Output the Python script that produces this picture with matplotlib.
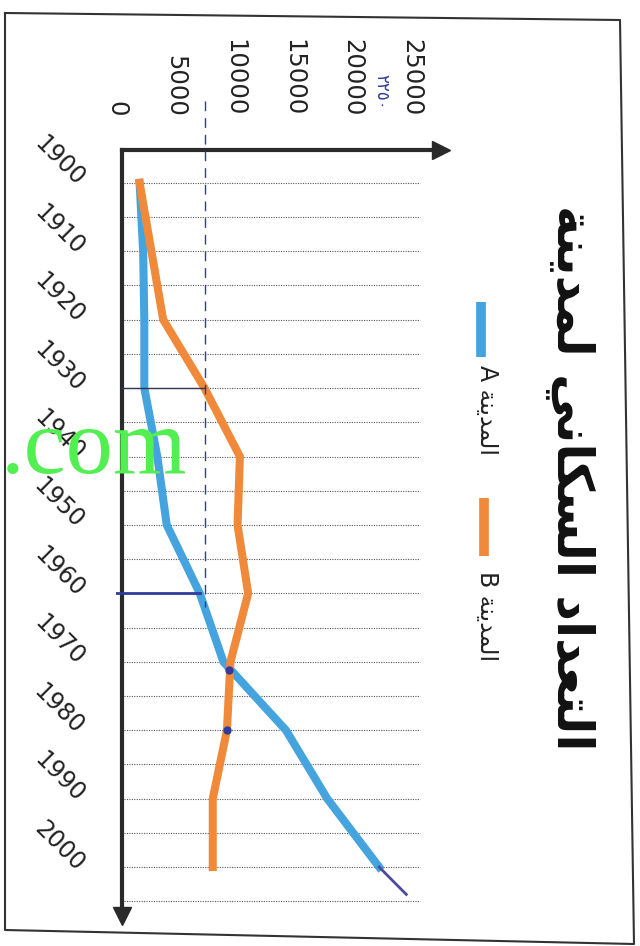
import matplotlib
matplotlib.use('Agg')
import matplotlib.pyplot as plt
from matplotlib.lines import Line2D

# population of the two cities
years = [1900, 1910, 1920, 1930, 1940, 1950, 1960, 1970, 1980, 1990, 2000]
city_a = [2000, 2300, 2400, 2400, 3500, 4300, 7100, 9100, 14400, 17900, 22300]
city_b = [2000, 3000, 4000, 7500, 10500, 10300, 11200, 9700, 9400, 8200, 8200]
grid_years = list(range(1900, 2010, 5))
pop_ticks = [0, 5000, 10000, 15000, 20000, 25000]

# pen marks the student added on the printout
mark_pop = 7500
mark_years = [1930, 1960]
mark_dots_year = [1971.2, 1980]
mark_dots_pop = [9600, 9400]
pen_ext_years = [2000, 2004]
pen_ext_pop = [22300, 24600]

BLUE = '#45a3de'
ORANGE = '#f08a3a'
INK = '#2f3c9a'
AXIS = '#2a2a2a'


def visual(codes):
    # matplotlib has no Arabic shaping: use presentation forms, reversed
    return ''.join(chr(c) for c in reversed(codes))


w_taadad = [0xFE8D, 0xFEDF, 0xFE98, 0xFECC, 0xFEAA, 0xFE8D, 0xFEA9]
w_sukkani = [0xFE8D, 0xFEDF, 0xFEB4, 0xFEDC, 0xFE8E, 0xFEE7, 0xFEF2]
w_lmadina = [0xFEDF, 0xFEE4, 0xFEAA, 0xFEF3, 0xFEE8, 0xFE94]
w_madina = [0xFE8D, 0xFEDF, 0xFEE4, 0xFEAA, 0xFEF3, 0xFEE8, 0xFE94]
SP = [0x20]
title = visual(w_taadad + SP + w_sukkani + SP + w_lmadina)
label_a = 'A ' + visual(w_madina)
label_b = 'B ' + visual(w_madina)

plt.rcParams['font.family'] = ['DejaVu Sans']

W, H = 640, 946
fig = plt.figure(figsize=(W / 100, H / 100), dpi=100, facecolor='white')


def fx(px):
    return px / W


def fy(py):
    return 1 - py / H


ax = fig.add_axes([fx(116), fy(930), 331 / W, (930 - 150) / H])
ax.set_xlim(0, 28050)
ax.set_ylim(2009.2, 1895.2)

# dotted grid every 5 years
ax.hlines(grid_years, 700, 25800, colors='#555555', linestyles=(0, (1, 1.2)),
          linewidth=0.8, zorder=1)

ax.plot(city_a, years, color=BLUE, linewidth=5.8, solid_joinstyle='miter', zorder=3)
ax.plot(city_b, years, color=ORANGE, linewidth=5.8, solid_joinstyle='miter', zorder=3)

# hand-drawn axes with arrows
for s in ['right', 'bottom']:
    ax.spines[s].set_visible(False)
ax.spines['left'].set_position(('data', 500))
for s in ['left', 'top']:
    ax.spines[s].set_linewidth(3)
    ax.spines[s].set_color(AXIS)
ax.spines['top'].set_bounds(500, 27300)
ax.spines['left'].set_bounds(1895.2, 2006.5)
ax.plot(27500, 1895.2, '>', color=AXIS, ms=13, clip_on=False, zorder=5)
ax.plot(500, 2007.2, 'v', color=AXIS, ms=13, clip_on=False, zorder=5)

ax.xaxis.set_ticks_position('top')
ax.set_xticks(pop_ticks)
ax.set_xticklabels([str(v) for v in pop_ticks])
ax.tick_params(axis='x', length=0, pad=24, labelsize=17.5, colors='#222222')
plt.setp(ax.get_xticklabels(), rotation=-90, ha='right', va='center',
         rotation_mode='anchor')

ax.set_yticks(years)
ax.set_yticklabels([str(y) for y in years])
ax.tick_params(axis='y', length=0, pad=30, labelsize=17, colors='#222222')
plt.setp(ax.get_yticklabels(), rotation=-45, ha='right', va='center',
         rotation_mode='anchor')

# pen marks
ax.plot([mark_pop, mark_pop], [1888, 1962], color=INK, linewidth=1,
        linestyle=(0, (7, 5)), clip_on=False, zorder=4)
ax.plot([500, mark_pop], [mark_years[0]] * 2, color='#333355', linewidth=1, zorder=4)
ax.plot([0, city_a[6]], [mark_years[1]] * 2, color=INK, linewidth=2, zorder=4)
ax.plot(mark_dots_pop, mark_dots_year, 'o', color=INK, ms=5, zorder=4)
ax.plot(pen_ext_pop, pen_ext_years, color='#4a4aa0', linewidth=2, zorder=4)
fig.text(fx(381), fy(92), '\u0662\u0662\u0665\u0660', rotation=-90, ha='center',
         va='center', fontsize=12, color=INK)

# title and legend, rotated with the sheet
fig.text(fx(570), fy(478), title, rotation=-90, ha='center', va='center',
         fontsize=36, fontweight='bold', color='#111111')
fig.add_artist(Line2D([fx(481)] * 2, [fy(302), fy(357)], color=BLUE,
                      linewidth=7, solid_capstyle='butt'))
fig.text(fx(487), fy(410), label_a, rotation=-90, ha='center', va='center',
         fontsize=17, color='#222222')
fig.add_artist(Line2D([fx(484)] * 2, [fy(498), fy(556)], color=ORANGE,
                      linewidth=7, solid_capstyle='butt'))
fig.text(fx(487), fy(616), label_b, rotation=-90, ha='center', va='center',
         fontsize=17, color='#222222')

# page frame of the scan
fig.add_artist(Line2D([fx(5), fx(620), fx(634), fx(5), fx(5)],
                      [fy(13), fy(20), fy(944), fy(930), fy(13)],
                      color='#333333', linewidth=1.5))

# watermark
fig.text(fx(1), fy(473), '.com', ha='left', va='baseline',
         family='Liberation Serif', fontsize=68, color='#52ee52', zorder=10)

fig.savefig('out.png', dpi=100, facecolor='white')
